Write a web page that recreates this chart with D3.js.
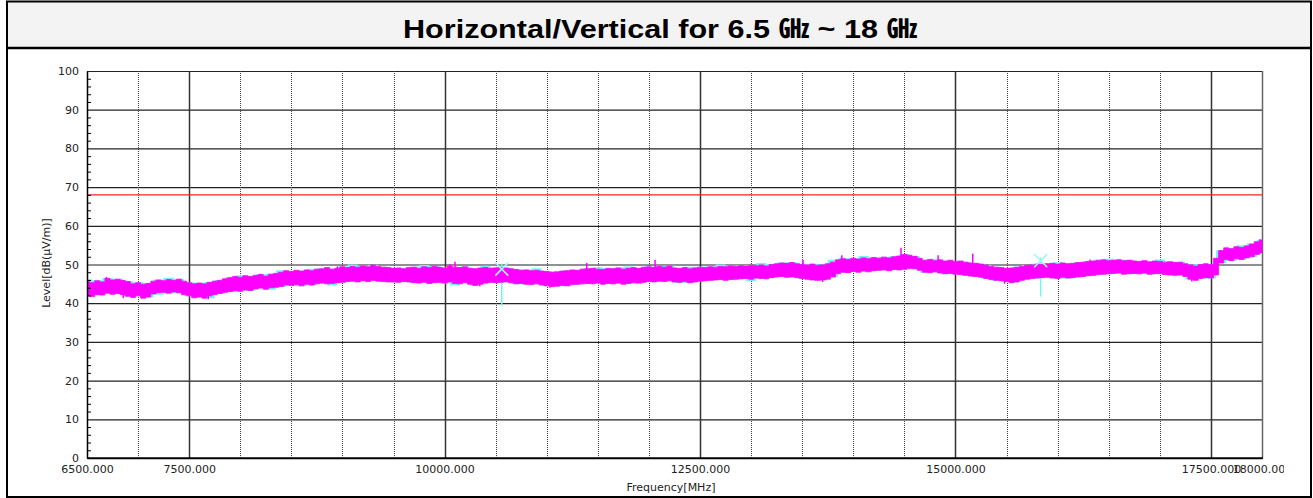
<!DOCTYPE html>
<html><head><meta charset="utf-8">
<script src="https://cdn.jsdelivr.net/npm/d3@7"></script>
<style>body{margin:0;background:#fff}svg{display:block}</style>
</head><body><svg id="c" width="1313" height="498"></svg>
<script>
// ---- data (levels in dB(uV/m)) ----
const startFreq = 6500, stopFreq = 18000;
// Vertical (magenta) trace: max / min envelope, one value per 50 MHz from 6500 MHz
const vertHi = [45.6,
 45.3,45.8,45.5,46.4,46.0,46.2,45.9,45.6,45.0,45.3,44.9,45.1,45.7,46.0,45.8,46.1,45.9,46.2,45.7,45.3,
 45.0,45.2,45.0,45.4,45.7,45.9,46.3,46.6,46.9,46.7,47.1,46.9,47.2,47.4,47.0,47.5,47.7,48.0,48.4,48.2,
 48.5,48.3,48.6,48.4,48.8,48.9,49.2,48.8,49.0,49.4,49.2,49.5,49.3,49.6,49.4,49.8,49.5,49.3,49.2,49.0,
 49.1,48.9,49.2,49.3,49.0,49.4,49.2,49.5,49.3,49.1,49.6,49.3,49.2,49.4,49.0,48.9,49.1,49.2,49.0,49.1,
 49.3,49.1,48.9,48.7,48.5,48.6,48.4,48.5,48.3,48.2,48.0,48.1,48.3,48.4,48.6,48.5,48.8,48.9,49.0,48.8,
 48.7,49.0,48.9,49.1,48.8,49.0,49.2,49.0,49.3,49.4,49.2,49.5,49.3,49.6,49.1,49.0,49.2,48.9,49.1,49.3,
 49.2,49.4,49.3,49.5,49.4,49.6,49.5,49.7,49.6,49.8,49.7,49.9,49.6,50.0,50.2,50.4,50.3,50.5,50.2,50.0,
 49.9,50.1,49.8,49.9,50.2,50.6,51.2,51.5,51.3,51.6,51.4,51.7,51.5,51.8,51.6,51.9,51.7,52.0,52.2,52.6,
 52.4,52.1,51.6,51.1,51.3,51.0,51.2,50.9,51.1,50.8,50.9,50.6,50.4,50.3,50.1,49.8,49.5,49.3,49.2,49.0,
 49.1,49.3,49.5,49.8,49.9,50.1,50.0,50.2,50.3,50.1,50.4,50.2,50.3,50.5,50.6,50.8,50.9,51.1,51.2,51.0,
 51.1,51.2,51.0,51.1,50.9,50.8,51.0,50.7,50.9,50.8,50.6,50.7,50.5,50.6,50.2,49.9,49.6,50.0,50.2,50.0,
 51.6,53.6,54.3,54.1,54.6,54.4,54.8,55.3,55.9,56.3];
const vertLo = [42.0,
 41.7,42.2,42.1,42.6,42.3,42.5,42.2,41.8,41.5,41.9,41.3,41.6,42.4,42.7,42.8,42.6,42.9,42.7,42.2,41.9,
 41.4,41.6,41.3,41.9,42.2,42.5,42.8,43.0,43.2,43.1,43.4,43.3,43.7,43.9,43.6,44.0,44.1,44.3,44.7,44.6,
 44.8,44.5,44.9,44.7,45.0,45.2,45.0,45.1,45.3,45.4,45.6,45.7,45.5,45.8,45.6,45.9,45.7,45.6,45.5,45.5,
 45.4,45.6,45.5,45.3,45.2,45.4,45.1,45.3,45.4,45.2,45.5,45.1,45.0,45.3,44.9,44.6,44.9,45.2,45.4,45.3,
 45.4,45.5,45.3,45.0,45.1,44.9,44.8,45.0,44.7,44.5,44.3,44.4,44.6,44.5,44.8,44.9,45.0,45.1,45.0,45.2,
 44.9,45.1,45.0,45.2,44.9,45.1,45.3,45.2,45.4,45.6,45.5,45.7,45.6,45.8,45.5,45.4,45.6,45.3,45.5,45.7,
 45.8,45.9,46.0,46.1,45.9,46.1,46.2,46.3,46.4,46.2,46.5,46.4,46.3,46.6,46.8,46.9,46.7,46.8,46.6,46.4,
 46.2,46.0,45.9,46.0,46.2,46.8,47.6,48.0,47.9,48.2,48.0,48.3,48.1,48.4,48.5,48.6,48.4,48.7,48.6,48.8,
 49.0,48.9,48.5,48.0,47.9,48.1,47.8,47.6,47.7,47.5,47.4,47.2,47.0,46.9,46.7,46.4,46.1,45.9,45.8,45.6,
 45.3,45.5,45.9,46.2,46.4,46.5,46.6,46.7,46.5,46.4,46.7,46.5,46.6,46.8,46.9,47.1,47.2,47.4,47.5,47.6,
 47.7,47.8,47.5,47.6,47.7,47.6,47.8,47.5,47.6,47.7,47.4,47.3,47.2,47.3,46.9,46.2,45.9,46.4,46.6,46.5,
 47.3,50.4,51.3,51.0,51.5,51.3,51.7,52.0,52.6,53.0];
// Horizontal (cyan) trace: max / min envelope, one value per 100 MHz from 6500 MHz
const horHi = [46.2,45.9,46.5,46.3,45.7,45.4,45.2,46.1,46.6,46.3,45.4,
 45.3,45.5,46.0,46.7,47.2,47.0,47.5,47.6,48.5,48.3,
 48.4,48.9,49.0,48.9,49.5,50.0,49.7,49.9,49.4,49.1,
 49.0,49.4,49.9,49.6,49.2,49.4,49.5,49.0,49.7,49.2,
 49.2,48.8,48.7,49.0,48.3,48.2,48.5,48.6,49.0,49.3,
 49.1,49.2,49.5,49.1,49.5,49.6,49.7,49.1,49.4,49.4,
 49.5,50.0,49.7,49.8,49.9,50.4,50.1,50.5,50.6,50.1,
 50.2,50.0,51.2,51.6,51.7,52.2,51.9,52.0,52.1,52.7,
 52.2,51.2,51.5,51.0,50.9,50.7,50.4,49.9,49.4,49.1,
 49.4,49.9,50.2,50.3,50.6,50.3,50.6,50.9,51.2,51.5,
 51.3,51.2,50.9,50.8,51.3,50.8,50.7,50.0,50.1,50.1,
 53.7,54.2,55.0,55.4,56.4];
const horLo = [41.9,42.1,42.5,42.4,41.7,41.8,41.5,42.2,42.5,42.6,41.8,
 41.5,41.3,42.4,42.9,43.0,43.2,43.8,43.5,44.2,44.5,
 44.4,44.6,45.1,44.6,45.3,45.6,45.7,45.8,45.5,45.4,
 45.5,45.2,45.3,45.2,45.1,44.6,45.2,44.5,45.1,45.2,
 45.4,44.9,44.8,44.9,44.4,44.3,44.4,44.8,45.0,45.1,
 45.0,45.1,45.0,45.1,45.5,45.6,45.7,45.3,45.2,45.6,
 45.8,46.0,46.0,46.2,45.7,46.3,46.5,46.8,46.7,46.3,
 45.9,45.9,46.7,47.9,48.1,48.2,48.3,48.5,48.6,48.7,
 48.8,47.9,48.0,47.5,47.4,47.1,46.8,46.3,45.8,45.5,
 45.4,46.1,46.4,46.6,46.3,46.4,46.7,47.0,47.3,47.5,
 47.7,47.5,47.5,47.4,47.6,47.2,47.2,46.1,46.3,46.4,
 50.3,50.9,51.2,51.9,52.9];
// isolated peaks and dips of the vertical trace [MHz, dB]
const vertPeaks = [[6690,46.8],[8190,47.6],[8950,49.5],[9290,50.0],[10053,50.1],[10102,50.7],[11391,50.4],[12060,51.2],[13508,51.2],[13887,52.4],[14467,54.3],[14830,52.4],[15169,52.8],[16317,51.3],[17981,56.5]];
const vertDips = [[6855,41.3],[7687,41.0],[10344,44.4],[11032,44.0],[13700,45.5],[15480,45.0],[17313,45.6]];
// horizontal trace markers [MHz, marker level, spike bottom, spike top]
const horMarkers = [[10559,48.8,39.3,50.2],[15834,51.0,41.7,51.8]];
const limitLevel = 68;
const xTickVals = [6500,7500,10000,12500,15000,17500,18000];
const xMajorGrid = [7500,10000,12500,15000,17500];
const xMinorGrid = [7000,8000,8500,9000,9500,10500,11000,11500,12000,13000,13500,14000,14500,15500,16000,16500,17000];
const yTickVals = [0,10,20,30,40,50,60,70,80,90,100];
const yMinorVals = [2,4,6,8,12,14,16,18,22,24,26,28,32,34,36,38,42,44,46,48,52,54,56,58,62,64,66,68,72,74,76,78,82,84,86,88,92,94,96,98];

// ---- drawing ----
const svg = d3.select('#c');
const L = 87, R = 1262, T = 71, B = 458;
const x = d3.scaleLinear().domain([startFreq, stopFreq]).range([L, R]);
const y = d3.scaleLinear().domain([0, 100]).range([B, T]);

// frame + title band
svg.append('rect').attr('x',7).attr('y',2).attr('width',1304).attr('height',46).attr('fill','#f3f3f3');
svg.append('line').attr('x1',7).attr('x2',1312).attr('y1',48).attr('y2',48).attr('stroke','#000').attr('stroke-width',2.5);
svg.append('rect').attr('x',7).attr('y',1.5).attr('width',1304).attr('height',495.5).attr('fill','none').attr('stroke','#000').attr('stroke-width',2);
svg.append('text').attr('x',660).attr('y',38).attr('text-anchor','middle')
  .attr('font-family','"Liberation Sans", Arial, "Noto Sans CJK KR", sans-serif').attr('font-weight','bold').attr('font-size',26)
  .attr('textLength',514).attr('lengthAdjust','spacingAndGlyphs')
  .attr('fill','#000').text('Horizontal/Vertical for 6.5 ㎓ ~ 18 ㎓');

// grid
const g = svg.append('g');
g.selectAll('.hg').data(yTickVals).join('line').attr('x1',L).attr('x2',R).attr('y1',d=>y(d)+0.5).attr('y2',d=>y(d)+0.5)
  .attr('stroke','#222').attr('stroke-width',1.2);
g.selectAll('.vmin').data(xMinorGrid).join('line').attr('y1',T).attr('y2',B).attr('x1',d=>Math.round(x(d))+0.5).attr('x2',d=>Math.round(x(d))+0.5)
  .attr('stroke','#444').attr('stroke-width',1).attr('stroke-dasharray','1,1');
g.selectAll('.vmaj').data(xMajorGrid).join('line').attr('y1',T).attr('y2',B).attr('x1',d=>Math.round(x(d))+0.5).attr('x2',d=>Math.round(x(d))+0.5)
  .attr('stroke','#333').attr('stroke-width',1.5);
g.append('line').attr('x1',R+0.5).attr('x2',R+0.5).attr('y1',T).attr('y2',B).attr('stroke','#666').attr('stroke-width',1.5);

// traces
svg.append('clipPath').attr('id','pc').append('rect').attr('x',L).attr('y',T).attr('width',R-L+1).attr('height',B-T);
const data = svg.append('g').attr('clip-path','url(#pc)');
const cy = horHi.map((h,i)=>({f:startFreq+i*100, hi:h, lo:horLo[i]}));
const mg = vertHi.map((h,i)=>({f:startFreq+i*50, hi:h, lo:vertLo[i]}));
const area = d3.area().x(d=>x(d.f)).y0(d=>y(d.lo)).y1(d=>y(d.hi)).curve(d3.curveStep);
const cyan = '#72f4f4', mag = '#ff00ff';
data.append('path').datum(cy).attr('d',area).attr('fill',cyan);
horMarkers.forEach(m=>{
  data.append('line').attr('x1',x(m[0])).attr('x2',x(m[0])).attr('y1',y(m[3])).attr('y2',y(m[2])).attr('stroke',cyan).attr('stroke-width',1.5);
});
data.append('path').datum(mg).attr('d',area).attr('fill',mag).attr('stroke',mag).attr('stroke-width',0.8);
data.selectAll('.pk').data(vertPeaks).join('line').attr('x1',d=>x(d[0])).attr('x2',d=>x(d[0])).attr('y1',d=>y(d[1])).attr('y2',d=>y(d[1]-2.5))
  .attr('stroke',mag).attr('stroke-width',1.5);
data.selectAll('.dp').data(vertDips).join('line').attr('x1',d=>x(d[0])).attr('x2',d=>x(d[0])).attr('y1',d=>y(d[1])).attr('y2',d=>y(d[1]+2.5))
  .attr('stroke',mag).attr('stroke-width',1.5);
horMarkers.forEach(m=>{
  const cx = x(m[0]), cyy = y(m[1]), s = 6.5;
  data.append('path').attr('d',`M${cx-s},${cyy-s}L${cx+s},${cyy+s}M${cx-s},${cyy+s}L${cx+s},${cyy-s}`).attr('stroke','#9ef7f7').attr('stroke-width',1.5).attr('fill','none');
});
// limit line
data.append('line').attr('x1',L).attr('x2',R).attr('y1',y(limitLevel)).attr('y2',y(limitLevel)).attr('stroke','#ff2020').attr('stroke-width',1.2);

// axes
const font = '"DejaVu Sans", sans-serif';
const yAx = svg.append('g').attr('transform',`translate(${L},0)`).call(d3.axisLeft(y).tickValues(yTickVals).tickSize(0).tickPadding(8));
yAx.select('.domain').attr('stroke','#000').attr('stroke-width',1.5);
yAx.selectAll('text').attr('font-family',font).attr('font-size',11).attr('fill','#222');
const yMin = svg.append('g').attr('transform',`translate(${L},0)`).call(d3.axisRight(y).tickValues(yMinorVals).tickSize(4).tickFormat(''));
yMin.select('.domain').remove();
yMin.selectAll('line').attr('stroke','#000');
svg.append('clipPath').attr('id','xc').append('rect').attr('x',0).attr('y',0).attr('width',1284).attr('height',40);
const xAx = svg.append('g').attr('transform',`translate(0,${B})`).attr('clip-path','url(#xc)')
  .call(d3.axisBottom(x).tickValues(xTickVals).tickSize(0).tickPadding(7).tickFormat(d=>d3.format('.3f')(d)));
xAx.select('.domain').attr('stroke','#000').attr('stroke-width',1.5);
xAx.selectAll('text').attr('font-family',font).attr('font-size',11).attr('fill','#222');
svg.append('line').attr('x1',L).attr('x2',R+1).attr('y1',B).attr('y2',B).attr('stroke','#000').attr('stroke-width',1.5);

svg.append('text').attr('x',671).attr('y',491).attr('text-anchor','middle').attr('font-family',font).attr('font-size',11).attr('fill','#222').text('Frequency[MHz]');
svg.append('text').attr('transform','translate(50,263) rotate(-90)').attr('text-anchor','middle').attr('font-family',font).attr('font-size',11).attr('fill','#222').text('Level[dB(μV/m)]');
</script></body></html>
